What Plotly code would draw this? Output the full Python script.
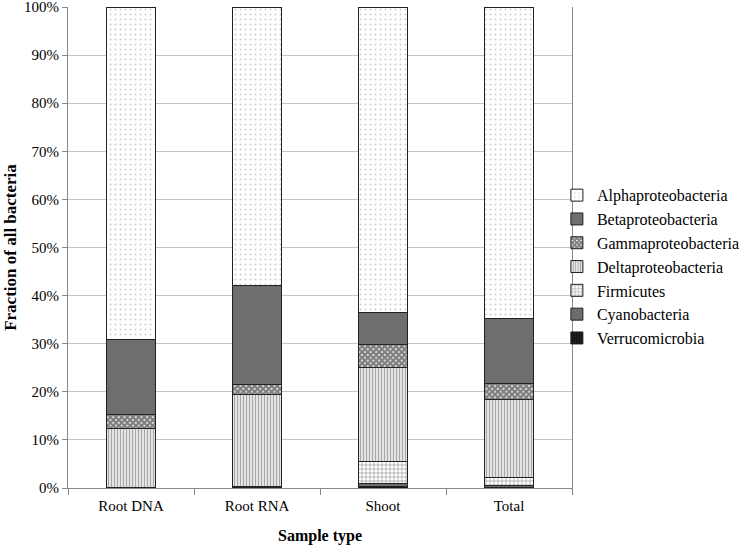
import plotly.graph_objects as go

categories = ["Root DNA", "Root RNA", "Shoot", "Total"]
series_names = ["Verrucomicrobia", "Cyanobacteria", "Firmicutes", "Deltaproteobacteria",
                "Gammaproteobacteria", "Betaproteobacteria", "Alphaproteobacteria"]
verrucomicrobia = [0.0, 0.1, 0.4, 0.2]
cyanobacteria = [0.0, 0.2, 0.6, 0.3]
firmicutes = [0.1, 0.1, 4.6, 1.7]
deltaproteobacteria = [12.2, 19.1, 19.4, 16.3]
gammaproteobacteria = [3.0, 2.1, 4.9, 3.3]
betaproteobacteria = [15.5, 20.4, 6.5, 13.5]
alphaproteobacteria = [69.2, 58.0, 63.6, 64.7]

values = [verrucomicrobia, cyanobacteria, firmicutes, deltaproteobacteria,
          gammaproteobacteria, betaproteobacteria, alphaproteobacteria]

styles = {
    "Verrucomicrobia": dict(color="#111111", pattern=dict(shape=".", fgcolor="#444444", size=3, solidity=0.3)),
    "Cyanobacteria": dict(color="#777777", pattern=dict(shape="x", fgcolor="#333333", size=3, solidity=0.4)),
    "Firmicutes": dict(color="#ffffff", pattern=dict(shape="+", fgcolor="#444444", size=4, solidity=0.35)),
    "Deltaproteobacteria": dict(color="#ffffff", pattern=dict(shape="|", fgcolor="#505050", size=3, solidity=0.55)),
    "Gammaproteobacteria": dict(color="#ffffff", pattern=dict(shape="x", fgcolor="#000000", size=4, solidity=0.85)),
    "Betaproteobacteria": dict(color="#6e6e6e", pattern=dict(shape="")),
    "Alphaproteobacteria": dict(color="#ffffff", pattern=dict(shape=".", fgcolor="#9a9a9a", size=5, solidity=0.12)),
}

fig = go.Figure()
for name, vals in zip(series_names, values):
    st = styles[name]
    fig.add_trace(go.Bar(
        x=categories, y=vals, name=name, legendgroup=name,
        marker=dict(color=st["color"], pattern=st["pattern"],
                    line=dict(color="#222222", width=1)),
    ))

font_family = "Liberation Serif, Times New Roman, serif"
fig.update_layout(
    barmode="stack",
    bargap=0.61,
    width=742, height=545,
    margin=dict(l=68, r=170, t=7, b=57, autoexpand=False),
    plot_bgcolor="white", paper_bgcolor="white",
    font=dict(family=font_family, size=15, color="black"),
    legend=dict(traceorder="reversed", x=0.97, xanchor="left", y=0.46, yanchor="middle",
                font=dict(size=16, family=font_family), itemwidth=30,
                tracegroupgap=9.5, bgcolor="rgba(0,0,0,0)"),
    showlegend=True,
)
fig.update_yaxes(
    range=[0, 100], dtick=10, ticksuffix="%",
    showgrid=True, gridcolor="#c4c4c4", gridwidth=1,
    showline=True, linecolor="#888888", linewidth=1, mirror=True,
    ticks="outside", ticklen=5, tickcolor="#888888",
    ticklabeloverflow="allow",
    title=dict(text="<b>Fraction of all bacteria</b>", font=dict(size=17, family=font_family), standoff=3),
    tickfont=dict(size=15, family=font_family),
)
fig.update_xaxes(
    showline=True, linecolor="#888888", linewidth=1,
    ticks="outside", tickson="boundaries", ticklen=6, tickcolor="#888888",
    ticklabelstandoff=4,
    title=dict(text="<b>Sample type</b>", font=dict(size=16, family=font_family), standoff=16),
    tickfont=dict(size=15, family=font_family),
)

fig.write_html("out.html", config={"displayModeBar": False},
               post_script="document.body.style.margin='0';document.body.style.padding='0';")
